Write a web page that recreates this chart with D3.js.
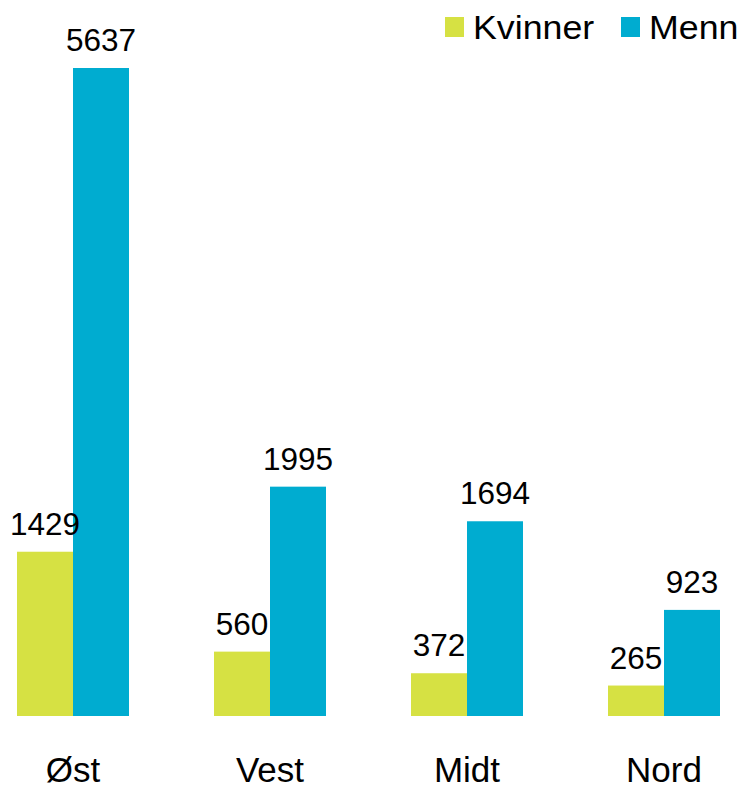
<!DOCTYPE html>
<html>
<head>
	<title>Kvinner og menn per region</title>
	<meta charset="utf-8" />
	<script src="https://cdn.jsdelivr.net/npm/d3@7"></script>
<style>
	body { margin: 0; background: #fff; }
	text { font-family: "Liberation Sans", Arial, sans-serif; fill: #000; }
</style>
</head>
<body>
<script>
// data
var regioner = ["Øst", "Vest", "Midt", "Nord"];
var serier = ["Kvinner", "Menn"];
var kvinner = [1429, 560, 372, 265];
var menn = [5637, 1995, 1694, 923];
var farger = ["#d6e143", "#00acd0"];

var width = 744, height = 787;
var baseline = 716;

var svg = d3.select("body").append("svg")
    .attr("width", width)
    .attr("height", height);

var data = regioner.map(function(r, i) {
  return {region: r, verdier: [kvinner[i], menn[i]]};
});

// X scales (groups + bars inside group)
var x0 = d3.scaleBand()
  .domain(regioner)
  .range([-25.5, 762.5]);

var x1 = d3.scaleBand()
  .domain(serier)
  .range([0, x0.bandwidth()])
  .paddingInner(0)
  .paddingOuter(0.759);

// Y scale
var y = d3.scaleLinear()
  .domain([0, 5637])
  .range([baseline, 68]);

var grupper = svg.selectAll(".gruppe")
  .data(data)
  .enter()
  .append("g")
    .attr("class", "gruppe")
    .attr("transform", function(d) { return "translate(" + x0(d.region) + ",0)"; });

// Bars
grupper.selectAll("rect")
  .data(function(d) { return d.verdier.map(function(v, j) { return {serie: serier[j], verdi: v, j: j}; }); })
  .enter()
  .append("rect")
    .attr("x", function(d) { return x1(d.serie); })
    .attr("y", function(d) { return y(d.verdi); })
    .attr("width", x1.bandwidth())
    .attr("height", function(d) { return baseline - y(d.verdi); })
    .attr("fill", function(d) { return farger[d.j]; });

// value labels
grupper.selectAll(".verdi")
  .data(function(d) { return d.verdier.map(function(v, j) { return {serie: serier[j], verdi: v}; }); })
  .enter()
  .append("text")
    .attr("class", "verdi")
    .attr("text-anchor", "middle")
    .attr("font-size", 31.5)
    .attr("x", function(d) { return x1(d.serie) + x1.bandwidth() / 2; })
    .attr("y", function(d) { return y(d.verdi) - 17; })
    .text(function(d) { return d.verdi; });

// category axis (no line, just labels)
var xAxis = svg.append("g")
  .attr("transform", "translate(0," + baseline + ")")
  .call(d3.axisBottom(x0).tickSize(0).tickPadding(0));
xAxis.select(".domain").remove();
xAxis.selectAll("text")
  .attr("y", 66)
  .attr("dy", null)
  .attr("font-size", 35)
  .attr("font-family", "Liberation Sans, Arial, sans-serif");

// legend
var legendX = [445, 621];
var legend = svg.selectAll(".legend")
  .data(serier)
  .enter()
  .append("g")
    .attr("class", "legend")
    .attr("transform", function(d, i) { return "translate(" + legendX[i] + ",0)"; });
legend.append("rect")
  .attr("x", 0)
  .attr("y", 17)
  .attr("width", 19)
  .attr("height", 20)
  .attr("fill", function(d, i) { return farger[i]; });
legend.append("text")
  .attr("font-size", 32.5)
  .attr("transform", "translate(28,39)scale(1.1,1)")
  .text(function(d) { return d; });
</script>
</body>
</html>
